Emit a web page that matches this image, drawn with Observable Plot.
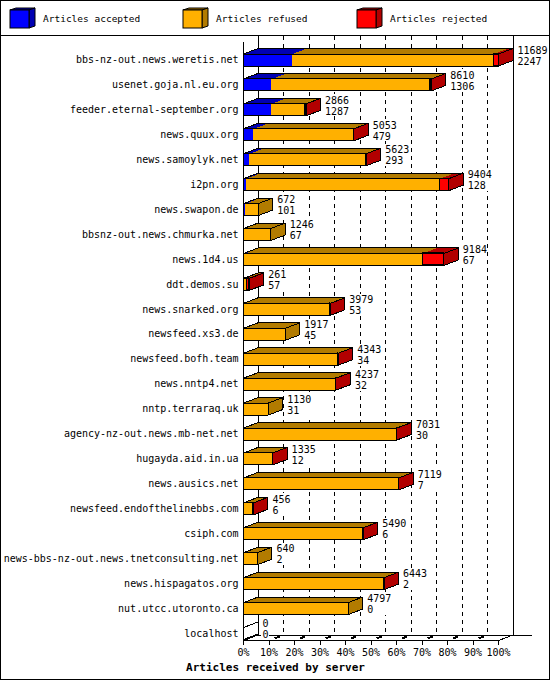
<!DOCTYPE html>
<html>
<head>
<meta charset="utf-8">
<script src="https://cdn.jsdelivr.net/npm/d3@7"></script>
<script src="https://cdn.jsdelivr.net/npm/@observablehq/plot@0.6"></script>
<style>
  body { margin: 0; background: #fff; }
  #wrap { width: 550px; height: 680px; box-sizing: border-box; border: 1px solid #000; position: relative; background: #fff; overflow: hidden; font-family: "DejaVu Sans Mono", monospace; }
  #legend { height: 34px; border-bottom: 1px solid #000; position: relative; }
  #chart svg { display: block; }
</style>
</head>
<body>
<div id="wrap">
  <div id="legend"></div>
  <div id="chart"></div>
</div>
<script>
// ---------------- data ----------------
const servers = [
  "bbs-nz-out.news.weretis.net",
  "usenet.goja.nl.eu.org",
  "feeder.eternal-september.org",
  "news.quux.org",
  "news.samoylyk.net",
  "i2pn.org",
  "news.swapon.de",
  "bbsnz-out.news.chmurka.net",
  "news.1d4.us",
  "ddt.demos.su",
  "news.snarked.org",
  "newsfeed.xs3.de",
  "newsfeed.bofh.team",
  "news.nntp4.net",
  "nntp.terraraq.uk",
  "agency-nz-out.news.mb-net.net",
  "hugayda.aid.in.ua",
  "news.ausics.net",
  "newsfeed.endofthelinebbs.com",
  "csiph.com",
  "news-bbs-nz-out.news.tnetconsulting.net",
  "news.hispagatos.org",
  "nut.utcc.utoronto.ca",
  "localhost"
];
const offered  = [11689, 8610, 2866, 5053, 5623, 9404, 672, 1246, 9184, 261, 3979, 1917, 4343, 4237, 1130, 7031, 1335, 7119, 456, 5490, 640, 6443, 4797, 0];
const accepted = [2247, 1306, 1287, 479, 293, 128, 101, 67, 67, 57, 53, 45, 34, 32, 31, 30, 12, 7, 6, 6, 2, 2, 0, 0];
const refused  = [9232, 7244, 1554, 4570, 5327, 8896, 571, 1179, 8157, 104, 3923, 1872, 4307, 4203, 1099, 6999, 1321, 7111, 430, 5483, 638, 6440, 4797, 0];
const rejected = [210, 60, 25, 4, 3, 380, 0, 0, 960, 100, 3, 0, 2, 2, 0, 2, 2, 1, 20, 1, 0, 1, 0, 0];
const seriesNames = ["Articles accepted", "Articles refused", "Articles rejected"];
const frontColors = ["#0000ff", "#ffb000", "#ff0000"];
const darkColors  = ["#0000b2", "#b27b00", "#b20000"];
const xTicks = [0, 10, 20, 30, 40, 50, 60, 70, 80, 90, 100];
const xTickLabels = ["0%", "10%", "20%", "30%", "40%", "50%", "60%", "70%", "80%", "90%", "100%"];
const xTitle = "Articles received by server";

// ---------------- layout ----------------
const W = 548, H = 643;
const X0 = 242, X1 = 497;      // pixel range of the front x axis
const Y0 = 23.5, YN = 597;     // pixel range of the row centres
const n = servers.length;
const pxRow = (YN - Y0) / (n - 1);
const pxX = (X1 - X0) / 100;
const toXU = px => (px - X0) / pxX;
const toYU = px => (px - Y0) / pxRow;
const DX = 14.5 / pxX, DY = 5.5 / pxRow, HH = 6 / pxRow;
const M = d3.max(offered);
const yTopBack = toYU(0), yTopFront = toYU(5.5);
const yFloorFront = toYU(604), yFloorBack = yFloorFront - DY;

// ---------------- geometry built from the data ----------------
const valueSeries = [accepted, refused, rejected];
const fills = [], outlines = [], segs = [];
function poly(arr, id, pts, extra) { pts.forEach(([x, y]) => arr.push({id, x, y, ...extra})); }
servers.forEach((s, i) => {
  let acc = 0, lastDark = darkColors[1];
  valueSeries.forEach((vals, k) => {
    const v = vals[i];
    if (v > 0) {
      const a = acc / M * 100, b = (acc + v) / M * 100;
      segs.push({x1: a, x2: b, y1: i - HH, y2: i + HH, fill: frontColors[k], k});
      poly(fills, `t${i}_${k}`, [[a, i - HH], [b, i - HH], [b + DX, i - HH - DY], [a + DX, i - HH - DY]], {fill: darkColors[k]});
      lastDark = darkColors[k];
    }
    acc += v;
  });
  const e = acc / M * 100;
  if (acc > 0) poly(fills, `s${i}`, [[e, i - HH], [e + DX, i - HH - DY], [e + DX, i + HH - DY], [e, i + HH]], {fill: lastDark});
  poly(outlines, `of${i}`, [[0, i - HH], [e, i - HH], [e, i + HH], [0, i + HH]]);
  poly(outlines, `ot${i}`, [[0, i - HH], [e, i - HH], [e + DX, i - HH - DY], [DX, i - HH - DY]]);
  poly(outlines, `os${i}`, [[e, i - HH], [e + DX, i - HH - DY], [e + DX, i + HH - DY], [e, i + HH]]);
});
const rejSegs = segs.filter(d => d.k === 2);
const rows = servers.map((s, i) => ({server: s, i, offered: offered[i], accepted: accepted[i]}));
const gridTicks = xTicks.filter(t => t > 0 && t < 100);
const labelX = d => d.offered / M * 100 + DX;
const labelW = d => Math.max(String(d.offered).length, String(d.accepted).length) * 6 + 2;

const chart = Plot.plot({
  width: W,
  height: H,
  marginLeft: X0,
  marginRight: W - X1,
  marginTop: 0,
  marginBottom: 0,
  x: {domain: [0, 100], range: [X0, X1], axis: null},
  y: {domain: [0, n - 1], range: [Y0, YN], axis: null},
  color: {type: "identity"},
  style: {fontFamily: "'DejaVu Sans Mono', monospace", fontSize: "10px", background: "#fff", overflow: "visible"},
  marks: [
    // back wall grid
    Plot.ruleX(gridTicks, {x: d => d + DX, y1: yTopBack, y2: yFloorBack, stroke: "#000", strokeDasharray: "4,4"}),
    // walls
    Plot.ruleX([DX, 100 + DX], {x: d => d, y1: yTopBack, y2: yFloorBack, stroke: "#000"}),
    Plot.ruleX([0], {x: d => d, y1: yTopFront, y2: yFloorFront, stroke: "#000"}),
    // floor
    Plot.ruleY([yFloorBack], {y: d => d, x1: DX, x2: 100 + DX + toXU(X0 + 19) , stroke: "#000"}),
    Plot.ruleY([yFloorFront], {y: d => d, x1: 0, x2: 100, stroke: "#000"}),
    Plot.link([0, 100], {x1: d => d, y1: yFloorFront, x2: d => d + DX, y2: yFloorBack, stroke: "#000"}),
    Plot.link(gridTicks, {x1: d => d + 0.4 * DX, y1: yFloorFront - 0.4 * DY, x2: d => d + 0.75 * DX, y2: yFloorFront - 0.75 * DY, stroke: "#000", strokeWidth: 2}),
    Plot.ruleX(xTicks, {x: d => d, y1: yFloorFront, y2: yFloorFront + 5 / pxRow, stroke: "#000"}),
    Plot.text(xTicks, {x: d => d, y: toYU(616), text: (d, j) => xTickLabels[j], fontSize: 10, fill: "#000"}),
    Plot.text([xTitle], {x: toXU(W / 2), y: toYU(631), text: d => d, fontSize: 11, fontWeight: "bold", fill: "#000"}),
    // bars
    Plot.rect(segs, {x1: "x1", x2: "x2", y1: "y1", y2: "y2", fill: "fill"}),
    Plot.line(fills, {x: "x", y: "y", z: "id", fill: "fill", stroke: null, curve: "linear-closed"}),
    Plot.line(outlines, {x: "x", y: "y", z: "id", fill: "none", stroke: "#000", strokeWidth: 1, curve: "linear-closed"}),
    Plot.rect(rejSegs, {x1: "x1", x2: "x2", y1: "y1", y2: "y2", fill: "none", stroke: "#000"}),
    // labels
    Plot.text(rows, {x: 0, y: "i", text: "server", textAnchor: "end", dx: -5, fontSize: 10, fill: "#000"}),
    Plot.rect(rows, {
      x1: d => labelX(d) + 3.5 / pxX, x2: d => labelX(d) + (3.5 + labelW(d)) / pxX,
      y1: d => d.i - 15 / pxRow, y2: d => d.i + 7 / pxRow, fill: "#fff"
    }),
    Plot.text(rows, {x: labelX, y: d => d.i - 9.5 / pxRow, text: d => String(d.offered), textAnchor: "start", dx: 4.5, fontSize: 10, fill: "#000"}),
    Plot.text(rows, {x: labelX, y: d => d.i + 1.5 / pxRow, text: d => String(d.accepted), textAnchor: "start", dx: 4.5, fontSize: 10, fill: "#000"})
  ]
});
chart.setAttribute("shape-rendering", "crispEdges");
document.getElementById("chart").appendChild(chart);

// ---------------- legend ----------------
const legendX = [9, 182, 356];
let lg = `<svg width="548" height="34" xmlns="http://www.w3.org/2000/svg" style="display:block;font-family:'DejaVu Sans Mono',monospace;font-size:9.5px">`;
seriesNames.forEach((name, k) => {
  const x = legendX[k], y = 9, w = 19, h = 18, ox = 6, oy = 2;
  lg += `<polygon points="${x},${y} ${x + ox},${y - oy} ${x + w + ox},${y - oy} ${x + w},${y}" fill="${darkColors[k]}" stroke="#000"/>`;
  lg += `<polygon points="${x + w},${y} ${x + w + ox},${y - oy} ${x + w + ox},${y + h - oy} ${x + w},${y + h}" fill="${darkColors[k]}" stroke="#000"/>`;
  lg += `<rect x="${x}" y="${y}" width="${w}" height="${h}" fill="${frontColors[k]}" stroke="#000"/>`;
  lg += `<text x="${x + 33}" y="${y + 9}" dominant-baseline="middle" fill="#000">${name}</text>`;
});
lg += `</svg>`;
document.getElementById("legend").innerHTML = lg;
</script>
</body>
</html>
